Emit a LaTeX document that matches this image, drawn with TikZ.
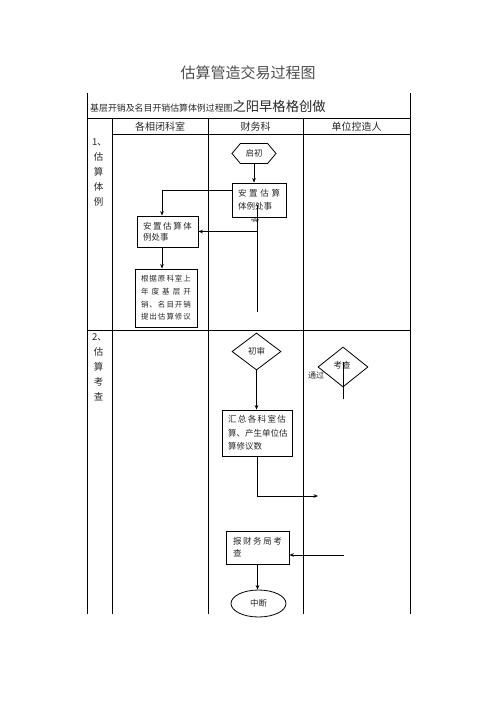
\documentclass[tikz,border=0pt]{standalone}
\usepackage{fontspec}
\setmainfont{Noto Sans CJK SC}
\usetikzlibrary{shapes.geometric,shapes.symbols,arrows.meta,calc}
\newcommand\spreadline[1]{\makebox[\hsize][s]{#1}}
\tikzset{
  tbl/.style={line width=0.8pt, black},
  lnk/.style={line width=0.8pt, black},
  arr/.style={lnk, -{Stealth[length=4.5pt,width=3.6pt]}},
  stepbox/.style={draw, line width=0.8pt, inner xsep=6pt, inner ysep=0pt, align=left, text=black!85, anchor=center},
  lbl/.style={text=black!85, inner sep=0pt},
}
\begin{document}
\begin{tikzpicture}[x=1pt,y=-1pt]
\useasboundingbox (0,0) rectangle (496,702);
% title
\node[lbl, font=\fontsize{15}{15}\selectfont, text=black!70] (title) at (248,73) {估算管造交易过程图};
% table
\draw[tbl] (87,93) -- (87,614);
\draw[tbl] (410,93) -- (410,614);
\draw[tbl] (87,118.5) -- (410,118.5);
\draw[tbl] (112,134) -- (410,134);
\draw[tbl] (87,330) -- (410,330);
\draw[tbl] (112,118.5) -- (112,614);
\draw[tbl] (208,118.5) -- (208,614);
\draw[tbl] (303,118.5) -- (303,614);
% header
\node[lbl, anchor=west] (hdr) at (90,106) {\fontsize{8.9}{10}\selectfont 基层开销及名目开销估算体例过程图\fontsize{13.3}{14}\selectfont 之阳早格格创做};
\node[lbl, font=\fontsize{10}{10}\selectfont] (h1) at (160,127) {各相闭科室};
\node[lbl, font=\fontsize{10}{10}\selectfont] (h2) at (255.5,127) {财务科};
\node[lbl, font=\fontsize{10}{10}\selectfont] (h3) at (356.5,127) {单位控造人};
% section labels
\node[lbl, anchor=north west, align=left, font=\fontsize{9.5}{15}\selectfont] (s1) at (92,139) {1、\\\,估\\\,算\\\,体\\\,例};
\node[lbl, anchor=north west, align=left, font=\fontsize{9.5}{15}\selectfont] (s2) at (92,333) {2、\\\,估\\\,算\\\,考\\\,查};
% section 1 nodes
\node[signal, signal to=east and west, signal pointer angle=100, draw, line width=0.8pt, minimum width=44pt, minimum height=20pt, inner sep=0pt, text=black!85, font=\fontsize{8.5}{9}\selectfont] (start) at (254,153.5) {启初};
\node[stepbox, text width=42pt, minimum height=34pt, font=\fontsize{8.5}{13}\selectfont] (box1) at (259,200) {\spreadline{安\hfill 置\hfill 估\hfill 算}\\体例处事};
\begin{scope}
\clip (240,217.6) rectangle (270,221.5);
\node[lbl, font=\fontsize{8.5}{9}\selectfont] (frag) at (255,222.5) {宜};
\end{scope}
\node[stepbox, text width=49pt, minimum height=31pt, font=\fontsize{8.5}{11}\selectfont] (box2) at (167.5,231.5) {\spreadline{安\hfill 置\hfill 估\hfill 算\hfill 体}\\例处事};
\node[stepbox, text width=50pt, minimum height=58pt, font=\fontsize{7.5}{12.7}\selectfont] (box3) at (166,298) {\spreadline{根\hfill 据\hfill 原\hfill 科\hfill 室\hfill 上}\\\spreadline{年\hfill 度\hfill 基\hfill 层\hfill 开}\\\spreadline{销\hfill 、\hfill 名\hfill 目\hfill 开\hfill 销}\\\spreadline{提\hfill 出\hfill 估\hfill 算\hfill 修\hfill 议}};
% section 2 nodes
\node[diamond, draw, line width=0.8pt, minimum width=49pt, minimum height=37pt, inner sep=0pt, text=black!85, font=\fontsize{8.5}{9}\selectfont] (d1) at (256.5,351.5) {初审};
\node[stepbox, text width=58pt, minimum height=46pt, font=\fontsize{8.5}{13.5}\selectfont] (box4) at (257,433) {\spreadline{汇\hfill 总\hfill 各\hfill 科\hfill 室\hfill 估}\\\spreadline{算\hfill 、\hfill 产\hfill 生\hfill 单\hfill 位\hfill 估}\\算修议数};
\node[diamond, draw, line width=0.8pt, minimum width=50pt, minimum height=40pt, inner sep=0pt, text=black!85, font=\fontsize{8.5}{9}\selectfont] (d2) at (343,367) {};
\node[lbl, font=\fontsize{8.5}{9}\selectfont] (d2t) at (342,365) {考查};
\node[lbl, font=\fontsize{8}{9}\selectfont] (pass) at (316,375) {通过};
\node[stepbox, text width=49pt, minimum height=33pt, inner xsep=7pt, font=\fontsize{8.5}{12}\selectfont] (box5) at (257.5,547.5) {\spreadline{报\hfill 财\hfill 务\hfill 局\hfill 考}\\查};
\node[ellipse, draw, line width=0.8pt, minimum width=55pt, minimum height=27pt, inner sep=0pt, text=black!85, font=\fontsize{8.5}{9}\selectfont] (end) at (258.5,603.5) {中断};
% coordinates
\coordinate (v1) at (257,205);
\coordinate (v2) at (257,312);
\coordinate (c3) at (318,496);
\coordinate (c4) at (344,555);
\coordinate (c5) at (343,362);
\coordinate (c6) at (343,399);
% connectors section 1
\draw[arr] (start.south) -- (start.south |- box1.north);
\draw[arr] ($(box1.north west)!0.235!(box1.south west)$) -| ([xshift=-5.5pt]box2.north);
\draw[lnk] (v1) -- (v2);
\draw[arr] (v1 |- box2.east) -- (box2.east);
\draw[arr] ([xshift=-5.5pt]box2.south) -- ([xshift=-4pt]box3.north);
% connectors section 2
\draw[arr] (d1.south) -- (d1.south |- box4.north);
\draw[arr] (box4.south) |- (c3);
\draw[lnk] (c5) -- (c6);
\draw[arr] (c4) -- (c4 -| box5.east);
\draw[arr] (box5.south) -- (box5.south |- end.north);
\end{tikzpicture}
\end{document}
